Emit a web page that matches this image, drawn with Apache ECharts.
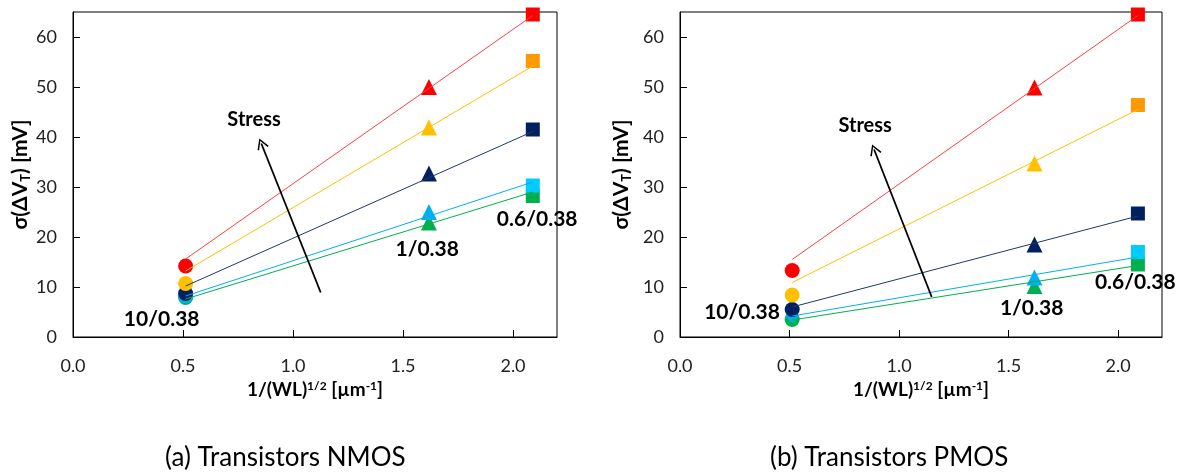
<!DOCTYPE html>
<html><head><meta charset="utf-8">
<script src="https://cdn.jsdelivr.net/npm/echarts@6/dist/echarts.min.js"></script>
<style>html,body{margin:0;padding:0;background:#fff}#c{width:1197px;height:473px}</style>
</head><body><div id="c"></div>
<script>
// ---- data ----
const xPos = [0.512, 1.618, 2.09];          // 10/0.38, 1/0.38, 0.6/0.38 devices
const fitX = [0.512, 2.09];
const shapes = ['circle', 'triangle', 'rect'];

// NMOS measured sigma(dVT) [mV]
const nmosRed    = [14.2, 50.0, 64.5];
const nmosYellow = [10.7, 41.9, 55.2];
const nmosNavy   = [8.7, 32.7, 41.5];
const nmosCyan   = [8.2, 25.0, 30.3];
const nmosGreen  = [7.9, 22.9, 28.2];
// NMOS fit lines (ends)
const nmosFitRed    = [15.6, 64.3];
const nmosFitYellow = [13.2, 54.2];
const nmosFitNavy   = [10.2, 41.1];
const nmosFitCyan   = [8.2, 31.0];
const nmosFitGreen  = [7.6, 29.0];

// PMOS measured sigma(dVT) [mV]
const pmosRed    = [13.3, 49.9, 64.5];
const pmosYellow = [8.4, 34.7, 46.4];
const pmosNavy   = [5.5, 18.5, 24.7];
const pmosCyan   = [4.2, 11.9, 17.0];
const pmosGreen  = [3.5, 10.2, 14.5];
// PMOS fit lines (ends)
const pmosFitRed    = [15.5, 64.3];
const pmosFitYellow = [10.9, 45.5];
const pmosFitNavy   = [6.0, 24.2];
const pmosFitCyan   = [4.2, 16.0];
const pmosFitGreen  = [3.4, 14.3];

// annotations [text, x, y]
const nmosNotes = [['10/0.38', 0.403, 3.5], ['1/0.38', 1.61, 17.5], ['0.6/0.38', 2.11, 23.5], ['Stress', 0.823, 43.4]];
const pmosNotes = [['10/0.38', 0.283, 4.9], ['1/0.38', 1.605, 5.7], ['0.6/0.38', 2.078, 10.9], ['Stress', 0.845, 42.3]];
const nmosArrow = [[1.126, 8.9], [0.856, 38.7]];
const pmosArrow = [[1.149, 8.0], [0.886, 37.5]];

const captions = ['(a) Transistors NMOS', '(b) Transistors PMOS'];
const xTitle = '1/(WL){sup|1/2} [µm{sup|-1}]';
const yTitle = 'σ(ΔV{sub|T}) [mV]';

// ---- styling ----
const FONT = 'Lato, "Open Sans", sans-serif';
const C = {
  red: '#FF0000', redLine: '#FF4040',
  yellow: '#FFC000', orange: '#FF9900', yellowLine: '#FFC000',
  navy: '#002060', navyLine: '#203864',
  cyan: '#00B0F0', cyanSq: '#00CCFF', cyanLine: '#00B0F0',
  green: '#00B050', greenLine: '#00B050'
};

function markers(vals, colors, gi, shapesOverride) {
  const sh = shapesOverride || shapes;
  return {
    type: 'scatter', xAxisIndex: gi, yAxisIndex: gi, z: 3,
    itemStyle: { opacity: 1 },
    data: vals.map((v, i) => ({
      value: [xPos[i], v], symbol: sh[i],
      symbolSize: sh[i] === 'triangle' ? 16 : (sh[i] === 'rect' ? 14 : (sh[i] === 'diamond' ? 14 : 15)),
      itemStyle: { color: colors[i], opacity: 1 }
    }))
  };
}
function fit(vals, color, gi) {
  return {
    type: 'line', xAxisIndex: gi, yAxisIndex: gi, z: 4, symbol: 'none', silent: true,
    lineStyle: { color: color, width: 1 },
    data: vals.map((v, i) => [fitX[i], v])
  };
}
function notes(list, arrow, gi) {
  return {
    type: 'scatter', xAxisIndex: gi, yAxisIndex: gi, z: 6, symbolSize: 0, clip: false, silent: true,
    itemStyle: { opacity: 1 },
    data: list.map(n => ({ value: [n[1], n[2]], label: { show: true, formatter: n[0], fontSize: n[0] === 'Stress' ? 20 : 21 } })),
    label: { show: true, position: 'inside', color: '#000', opacity: 1, fontWeight: 'bold', fontFamily: FONT },
    markLine: {
      silent: true, animation: false,
      symbol: ['none', 'path://M5,0 L10,9 L8.8,9.6 L5,2.4 L1.2,9.6 L0,9 Z'],
      symbolSize: [12, 11],
      label: { show: false },
      lineStyle: { color: '#000', width: 1.8, type: 'solid', opacity: 1 },
      data: [[{ coord: arrow[0] }, { coord: arrow[1] }]]
    }
  };
}

function xAx(gi) {
  return {
    gridIndex: gi, type: 'value', min: 0, max: 2.2, interval: 0.5,
    axisLine: { show: true, lineStyle: { color: '#000', width: 1 } },
    axisTick: { show: true, inside: true, length: 7, lineStyle: { color: '#000' } },
    splitLine: { show: false },
    axisLabel: { color: '#222', fontSize: 18, fontFamily: FONT, margin: 20, showMaxLabel: false,
      formatter: v => v.toFixed(1) },
    name: xTitle, nameLocation: 'middle', nameGap: 42,
    nameTextStyle: { color: '#000', fontWeight: 'bold', fontSize: 19, fontFamily: FONT,
      rich: { sup: { fontSize: 12, fontWeight: 'bold', verticalAlign: 'top', padding: [0, 0, 8, 0], fontFamily: FONT } } }
  };
}
function yAx(gi, gap) {
  return {
    gridIndex: gi, type: 'value', min: 0, max: 65, interval: 10,
    axisLine: { show: true, lineStyle: { color: '#000', width: 1 } },
    axisTick: { show: true, inside: true, length: 7, lineStyle: { color: '#000' } },
    splitLine: { show: false },
    axisLabel: { color: '#222', fontSize: 18, fontFamily: FONT, margin: 16, showMaxLabel: false },
    name: yTitle, nameLocation: 'middle', nameGap: gap, nameRotate: 90,
    nameTextStyle: { color: '#000', fontWeight: 'bold', fontSize: 21, fontFamily: FONT,
      rich: { sub: { fontSize: 13, fontWeight: 'bold', verticalAlign: 'bottom', padding: [10, 0, 0, 0], fontFamily: FONT } } }
  };
}

const chart = echarts.init(document.getElementById('c'), null, { renderer: 'canvas' });
chart.setOption({
  animation: false,
  backgroundColor: '#fff',
  grid: [
    { left: 73, right: 640, top: 12, bottom: 136, show: true, borderColor: '#000', borderWidth: 1 },
    { left: 680, right: 35, top: 12, bottom: 136, show: true, borderColor: '#000', borderWidth: 1 }
  ],
  xAxis: [xAx(0), xAx(1)],
  yAxis: [yAx(0, 40), yAx(1, 47)],
  graphic: [
    { type: 'text', left: 165, top: 445, style: { text: captions[0], fontSize: 26, fontFamily: FONT, fill: '#000' } },
    { type: 'text', left: 770, top: 445, style: { text: captions[1], fontSize: 26, fontFamily: FONT, fill: '#000' } }
  ],
  series: [
    // NMOS markers (drawn bottom to top)
    markers(nmosGreen, [C.green, C.green, C.green], 0),
    markers(nmosCyan, [C.cyan, C.cyan, C.cyanSq], 0),
    markers(nmosNavy, [C.navy, C.navy, C.navy], 0),
    markers(nmosYellow, [C.yellow, C.yellow, C.orange], 0),
    markers(nmosRed, [C.red, C.red, C.red], 0),
    fit(nmosFitGreen, C.greenLine, 0),
    fit(nmosFitCyan, C.cyanLine, 0),
    fit(nmosFitNavy, C.navyLine, 0),
    fit(nmosFitYellow, C.yellowLine, 0),
    fit(nmosFitRed, C.redLine, 0),
    notes(nmosNotes, nmosArrow, 0),
    // PMOS
    markers(pmosGreen, [C.green, C.green, C.green], 1),
    markers(pmosCyan, [C.cyan, C.cyan, C.cyanSq], 1, ['diamond', 'triangle', 'rect']),
    markers(pmosNavy, [C.navy, C.navy, C.navy], 1),
    markers(pmosYellow, [C.yellow, C.yellow, C.orange], 1),
    markers(pmosRed, [C.red, C.red, C.red], 1),
    fit(pmosFitGreen, C.greenLine, 1),
    fit(pmosFitCyan, C.cyanLine, 1),
    fit(pmosFitNavy, C.navyLine, 1),
    fit(pmosFitYellow, C.yellowLine, 1),
    fit(pmosFitRed, C.redLine, 1),
    notes(pmosNotes, pmosArrow, 1)
  ]
});
</script>
</body></html>
